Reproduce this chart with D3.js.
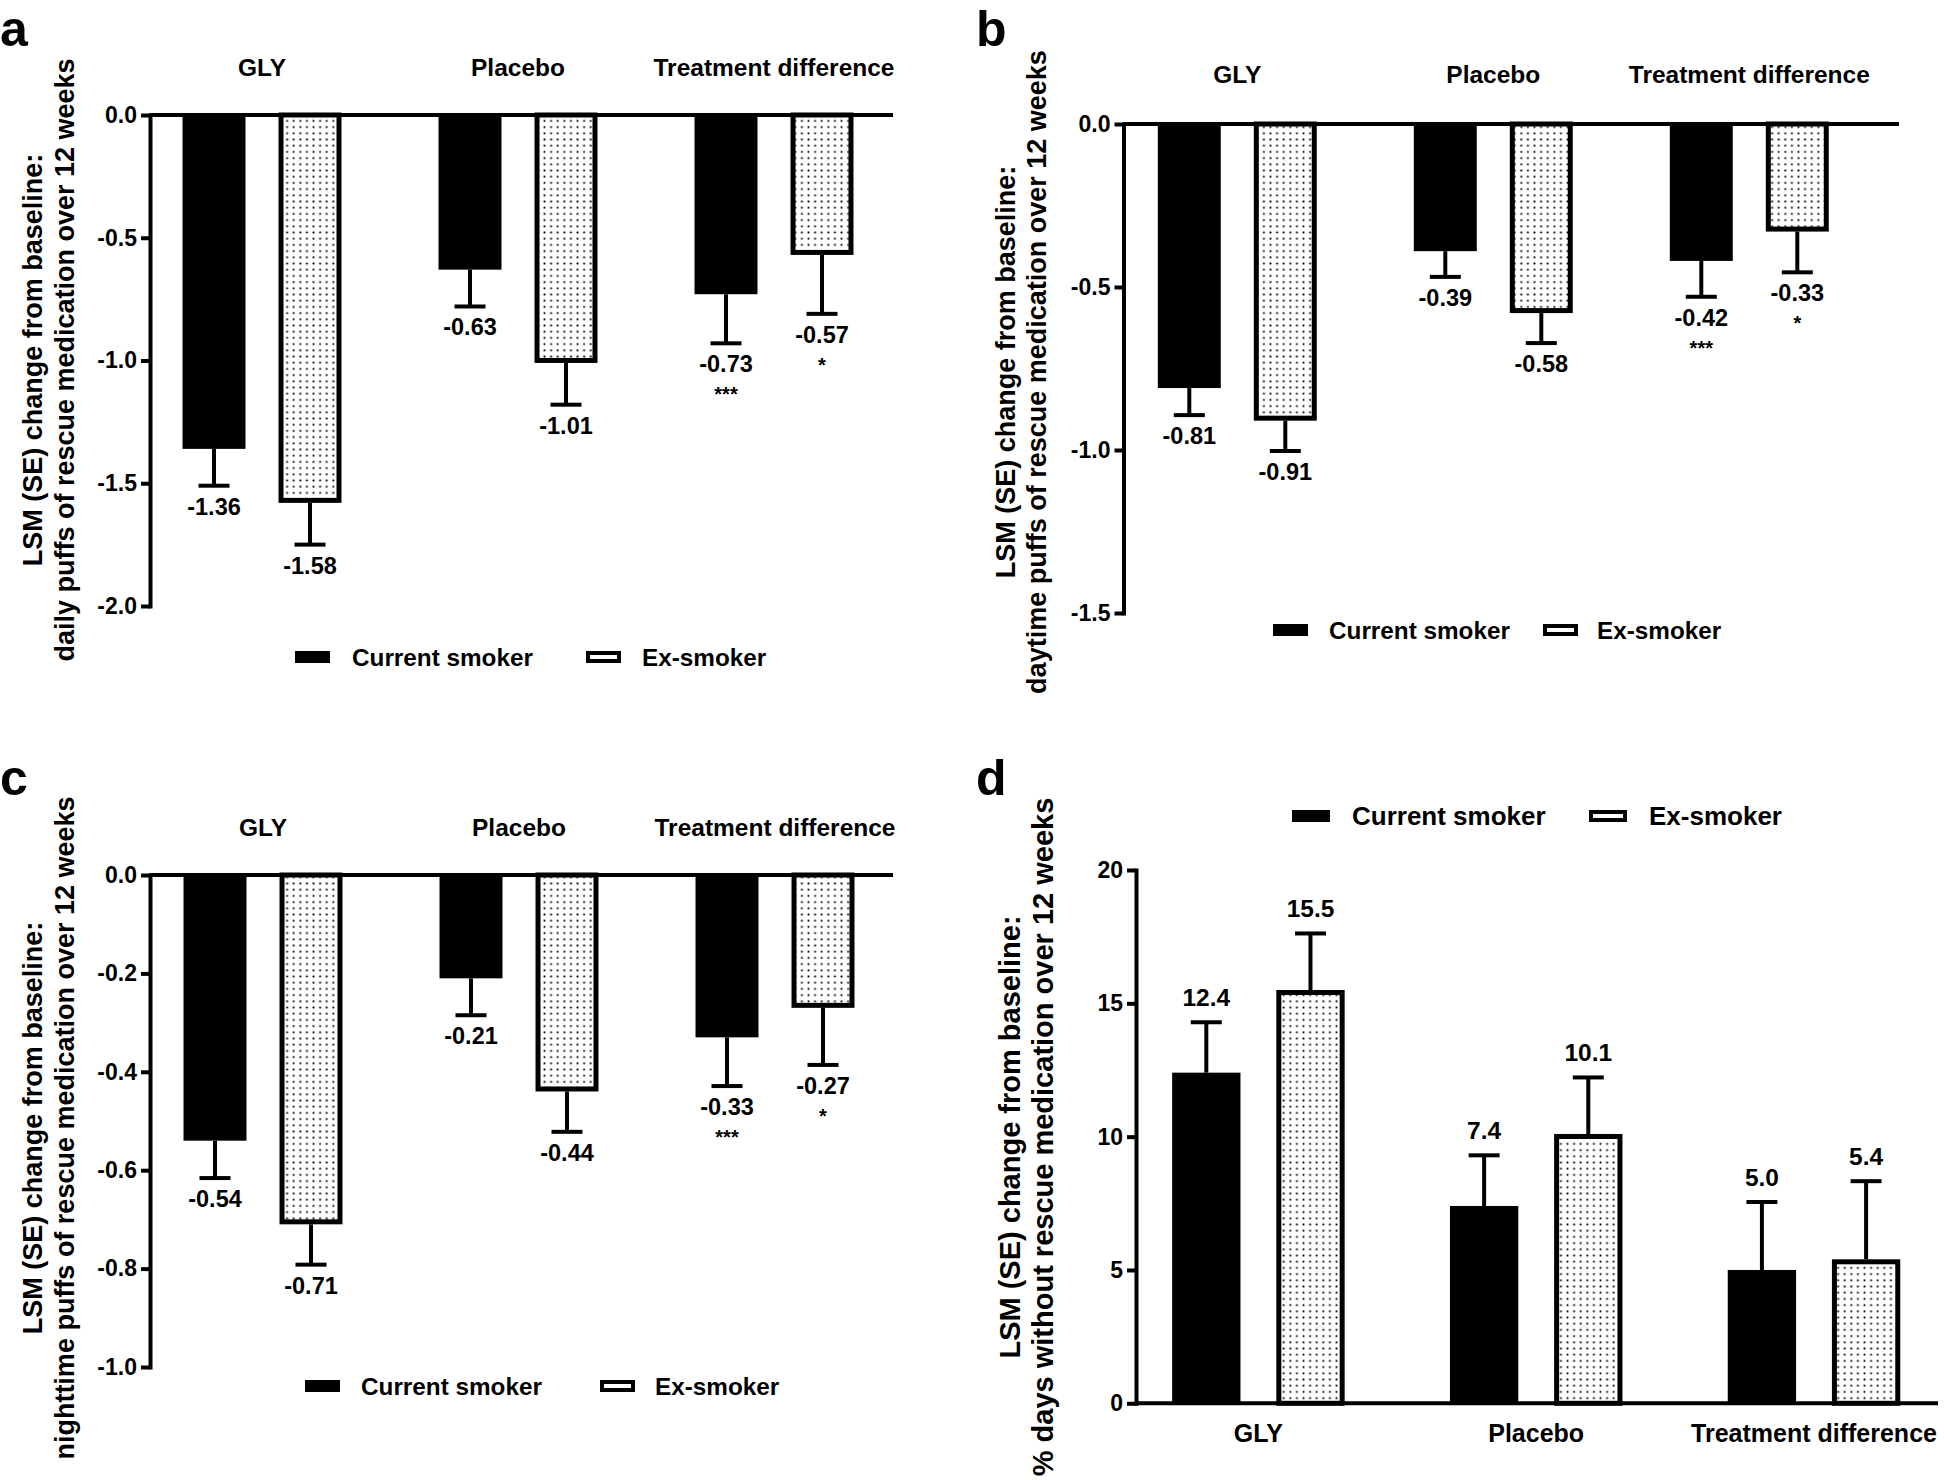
<!DOCTYPE html>
<html><head><meta charset="utf-8">
<script src="https://cdn.jsdelivr.net/npm/d3@7"></script>
<style>
html,body{margin:0;padding:0;background:#fff;}
svg{display:block;}
text{font-family:"Liberation Sans",Arial,Helvetica,sans-serif;font-weight:bold;fill:#000;}
</style>
</head><body>
<svg id="chart" width="1944" height="1480"></svg>
<script>
// ---------- data ----------
const groups = ["GLY", "Placebo", "Treatment difference"];
const series = ["Current smoker", "Ex-smoker"];

// (a) daily puffs
const dailyCurrent   = [-1.36, -0.63, -0.73];
const dailyCurrentSE = [0.15, 0.15, 0.20];
const dailyEx        = [-1.58, -1.01, -0.57];
const dailyExSE      = [0.17, 0.17, 0.24];
const dailyTicks     = [0, -0.5, -1.0, -1.5, -2.0];

// (b) daytime puffs
const daytimeCurrent   = [-0.81, -0.39, -0.42];
const daytimeCurrentSE = [0.083, 0.079, 0.11];
const daytimeEx        = [-0.91, -0.58, -0.33];
const daytimeExSE      = [0.093, 0.092, 0.125];
const daytimeTicks     = [0, -0.5, -1.0, -1.5];

// (c) nighttime puffs
const nightCurrent   = [-0.54, -0.21, -0.33];
const nightCurrentSE = [0.076, 0.075, 0.099];
const nightEx        = [-0.71, -0.44, -0.27];
const nightExSE      = [0.082, 0.082, 0.116];
const nightTicks     = [0, -0.2, -0.4, -0.6, -0.8, -1.0];

// (d) % days without rescue medication
const daysCurrent   = [12.4, 7.4, 5.0];
const daysCurrentSE = [1.89, 1.9, 2.55];
const daysEx        = [15.5, 10.1, 5.4];
const daysExSE      = [2.12, 2.12, 2.93];
const daysTicks     = [0, 5, 10, 15, 20];

// significance marks (treatment difference)
const starsCurrent = ["", "", "***"];
const starsEx      = ["", "", "*"];

const titleLine1 = "LSM (SE) change from baseline:";
const titleA = "daily puffs of rescue medication over 12 weeks";
const titleB = "daytime puffs of rescue medication over 12 weeks";
const titleC = "nighttime puffs of rescue medication over 12 weeks";
const titleD = "% days without rescue medication over 12 weeks";

// ---------- drawing ----------
const svg = d3.select("#chart");
svg.append("rect").attr("width", 1944).attr("height", 1480).attr("fill", "#fff");

const defs = svg.append("defs");
const pat = defs.append("pattern").attr("id", "dots")
  .attr("patternUnits", "userSpaceOnUse").attr("width", 6.6).attr("height", 6.2);
pat.append("rect").attr("width", 6.6).attr("height", 6.2).attr("fill", "#fff");
pat.append("rect").attr("x", 2.4).attr("y", 2.2).attr("width", 1.8).attr("height", 1.8).attr("fill", "#000");

const minusLocale = d3.formatLocale({decimal: ".", thousands: ",", grouping: [3], currency: ["", ""], minus: "-"});

function drawPanel(p) {
  const g = svg.append("g");
  const y = d3.scaleLinear().domain(p.domain).range([p.yTop, p.yBottom]);
  const xg = d3.scaleBand().domain(groups).range([p.groupStart, p.groupStart + p.step * 3]);
  const xs = d3.scalePoint().domain(series).range([-0.1875 * p.step, 0.1875 * p.step]);
  const bw = 0.246 * p.step;
  const valFmt = minusLocale.format(p.valFmt);
  const tickFmt = minusLocale.format(p.tickFmt);

  const rows = [];
  groups.forEach((grp, i) => {
    rows.push({g: grp, s: series[0], v: p.cur[i], se: p.curSE[i], star: p.stars ? starsCurrent[i] : ""});
    rows.push({g: grp, s: series[1], v: p.ex[i], se: p.exSE[i], star: p.stars ? starsEx[i] : ""});
  });
  const cx = d => xg(d.g) + xg.bandwidth() / 2 + xs(d.s);
  const y0 = y(0);
  const sw = 5;

  // bars
  rows.forEach(d => {
    const yv = y(d.v);
    const top = Math.min(yv, y0), bot = Math.max(yv, y0);
    if (d.s === series[0]) {
      g.append("rect").attr("x", cx(d) - bw / 2).attr("y", top).attr("width", bw).attr("height", bot - top).attr("fill", "#000");
    } else {
      const neg = d.v < 0;
      const t = neg ? top : top + sw / 2;
      const b = neg ? bot - sw / 2 : bot;
      g.append("rect").attr("x", cx(d) - bw / 2 + sw / 2).attr("y", t)
        .attr("width", bw - sw).attr("height", b - t)
        .attr("fill", "url(#dots)").attr("stroke", "#000").attr("stroke-width", sw);
    }
  });

  // error bars
  rows.forEach(d => {
    const sign = d.v < 0 ? -1 : 1;
    const ye = y(d.v + sign * d.se);
    g.append("line").attr("x1", cx(d)).attr("x2", cx(d)).attr("y1", y(d.v)).attr("y2", ye)
      .attr("stroke", "#000").attr("stroke-width", 4);
    g.append("line").attr("x1", cx(d) - 15.5).attr("x2", cx(d) + 15.5).attr("y1", ye).attr("y2", ye)
      .attr("stroke", "#000").attr("stroke-width", 4);
    const lb = sign < 0 ? ye + 29 : ye - 16;
    g.append("text").attr("x", cx(d)).attr("y", lb).attr("text-anchor", "middle")
      .style("font-size", p.valSize + "px").text(valFmt(d.v));
    if (d.star) {
      g.append("text").attr("x", cx(d)).attr("y", lb + 29).attr("text-anchor", "middle")
        .style("font-size", "20px").text(d.star);
    }
  });

  // zero line (x axis)
  g.append("line").attr("x1", p.x0).attr("x2", p.xEnd).attr("y1", y0).attr("y2", y0)
    .attr("stroke", "#000").attr("stroke-width", 4);

  // y axis
  const ax = g.append("g").attr("transform", `translate(${p.x0},0)`)
    .call(d3.axisLeft(y).tickValues(p.ticks).tickFormat(tickFmt).tickSize(9).tickSizeOuter(0).tickPadding(4));
  ax.attr("font-size", null).attr("font-family", null);
  ax.select(".domain").attr("stroke-width", 4).attr("stroke-linecap", "square");
  ax.selectAll(".tick line").attr("stroke-width", 4);
  ax.selectAll(".tick text").style("font-size", "23px").attr("fill", "#000");

  // category labels
  groups.forEach(grp => {
    g.append("text").attr("x", xg(grp) + xg.bandwidth() / 2).attr("y", p.catY)
      .attr("text-anchor", "middle").style("font-size", p.catSize + "px").text(grp);
  });

  // legend
  series.forEach((s, i) => {
    const lx = p.legX[i], ly = p.legY, lw = p.legW, lh = 12;
    if (i === 0) {
      g.append("rect").attr("x", lx).attr("y", ly - lh / 2).attr("width", lw).attr("height", lh).attr("fill", "#000");
    } else {
      g.append("rect").attr("x", lx + 2).attr("y", ly - lh / 2 + 2).attr("width", lw - 4).attr("height", lh - 4)
        .attr("fill", "#fff").attr("stroke", "#000").attr("stroke-width", 4);
    }
    g.append("text").attr("x", p.legTX[i]).attr("y", ly + 9).style("font-size", p.legSize + "px").text(s);
  });

  // y title
  [titleLine1, p.title].forEach((t, i) => {
    g.append("text").attr("transform", `translate(${p.titleX[i]},${p.titleY}) rotate(-90)`)
      .attr("text-anchor", "middle").style("font-size", p.titleSize + "px").text(t);
  });

  // panel letter
  g.append("text").attr("x", p.letterX).attr("y", p.letterY).style("font-size", "50px").text(p.letter);
}

drawPanel({
  letter: "a", letterX: 0, letterY: 46,
  domain: [0, -2], yTop: 115, yBottom: 606, ticks: dailyTicks, tickFmt: ".1f", valFmt: ".2f", valSize: 23.5,
  x0: 150, xEnd: 893, groupStart: 134, step: 256, catY: 76, catSize: 24.5,
  cur: dailyCurrent, curSE: dailyCurrentSE, ex: dailyEx, exSE: dailyExSE, stars: true,
  legY: 657, legX: [295, 586], legTX: [352, 642], legW: 35, legSize: 24.3,
  title: titleA, titleX: [42, 74], titleY: 360, titleSize: 27
});
drawPanel({
  letter: "b", letterX: 976, letterY: 46,
  domain: [0, -1.5], yTop: 124, yBottom: 613, ticks: daytimeTicks, tickFmt: ".1f", valFmt: ".2f", valSize: 23.5,
  x0: 1123.5, xEnd: 1899, groupStart: 1109.3, step: 256, catY: 83, catSize: 24.5,
  cur: daytimeCurrent, curSE: daytimeCurrentSE, ex: daytimeEx, exSE: daytimeExSE, stars: true,
  legY: 630, legX: [1273, 1543], legTX: [1329, 1597], legW: 35, legSize: 24.3,
  title: titleB, titleX: [1015, 1046], titleY: 372, titleSize: 27
});
drawPanel({
  letter: "c", letterX: 0, letterY: 795,
  domain: [0, -1], yTop: 875, yBottom: 1367, ticks: nightTicks, tickFmt: ".1f", valFmt: ".2f", valSize: 23.5,
  x0: 150, xEnd: 893, groupStart: 135, step: 256, catY: 836, catSize: 24.5,
  cur: nightCurrent, curSE: nightCurrentSE, ex: nightEx, exSE: nightExSE, stars: true,
  legY: 1386, legX: [305, 600], legTX: [361, 655], legW: 35, legSize: 24.3,
  title: titleC, titleX: [42, 74], titleY: 1128, titleSize: 27
});
drawPanel({
  letter: "d", letterX: 976, letterY: 795,
  domain: [20, 0], yTop: 870, yBottom: 1403.3, ticks: daysTicks, tickFmt: "d", valFmt: ".1f", valSize: 24.5,
  x0: 1136, xEnd: 1938, groupStart: 1119.5, step: 277.8, catY: 1442, catSize: 25,
  cur: daysCurrent, curSE: daysCurrentSE, ex: daysEx, exSE: daysExSE, stars: false,
  legY: 816, legX: [1292, 1589], legTX: [1352, 1649], legW: 38, legSize: 26,
  title: titleD, titleX: [1020, 1053], titleY: 1137, titleSize: 29
});
</script>
</body></html>
